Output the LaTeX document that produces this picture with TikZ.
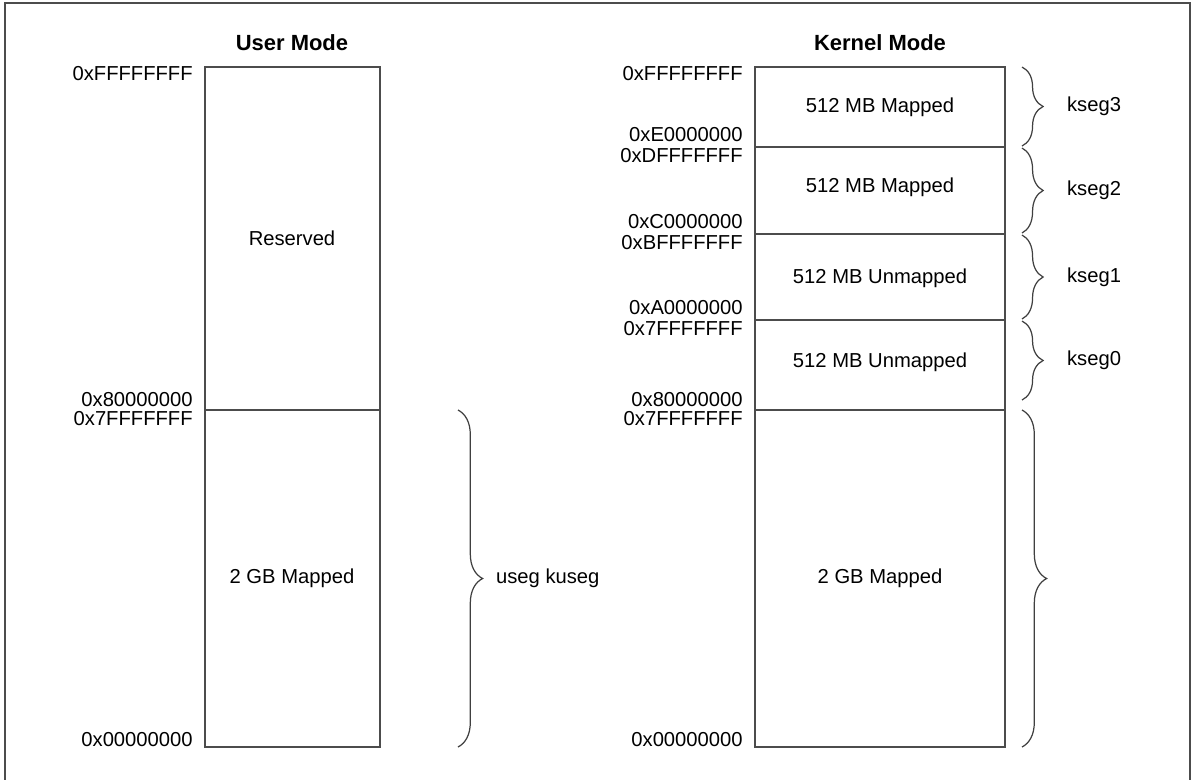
\documentclass[tikz,border=0pt]{standalone}
\usepackage{fontspec}
\setmainfont{Liberation Sans}
\usetikzlibrary{decorations.pathreplacing}
\tikzset{
  addr/.style={anchor=east,inner sep=0pt,font=\fontsize{11.5}{13}\selectfont},
  seg/.style={font=\fontsize{11.5}{13}\selectfont},
  title/.style={font=\fontsize{12.5}{14}\selectfont\bfseries},
  mem/.style={draw=black!70,line width=0.8pt},
  brc/.style={decorate,decoration={brace,amplitude=14pt},draw=black!75,line width=0.7pt}
}
\begin{document}
\begin{tikzpicture}[x=0.02cm,y=-0.02cm]
\useasboundingbox (0,0) rectangle (1193,779);
\draw[black!70,line width=0.8pt] (5,3) rectangle (1190,790);
% user mode
\node[title] (ut) at (292,43) {User Mode};
\coordinate (u1) at (205,67); \coordinate (u2) at (380,410); \coordinate (u3) at (380,747);
\draw[mem] (u1) rectangle (u3);
\draw[mem] (205,410) -- (u2);
\node[seg] (ures) at (292,238) {Reserved};
\node[seg] (umap) at (292,578) {2 GB Mapped};
\node[addr] at (193,74) {0xFFFFFFFF};
\node[addr] at (193,400) {0x80000000};
\node[addr] at (193,419) {0x7FFFFFFF};
\node[addr] at (193,740) {0x00000000};
\draw[brc] (458,410) -- (458,747) node[midway,right=18pt,seg] (useg) {useg kuseg};
% kernel mode
\node[title] (kt) at (880,43) {Kernel Mode};
\draw[mem] (755,67) rectangle (1005,747);
\foreach \y in {147,234,320,410} \draw[mem] (755,\y) -- (1005,\y);
\node[seg] (k3) at (880,107) {512 MB Mapped};
\node[seg] (k2) at (880,187) {512 MB Mapped};
\node[seg] (k1) at (880,278) {512 MB Unmapped};
\node[seg] (k0) at (880,362) {512 MB Unmapped};
\node[seg] (kmap) at (880,578) {2 GB Mapped};
\node[addr] at (743,74) {0xFFFFFFFF};
\node[addr] at (743,135) {0xE0000000};
\node[addr] at (743,156) {0xDFFFFFFF};
\node[addr] at (743,222) {0xC0000000};
\node[addr] at (743,243) {0xBFFFFFFF};
\node[addr] at (743,308) {0xA0000000};
\node[addr] at (743,329) {0x7FFFFFFF};
\node[addr] at (743,400) {0x80000000};
\node[addr] at (743,419) {0x7FFFFFFF};
\node[addr] at (743,740) {0x00000000};
\foreach \a/\b/\t in {67/146/kseg3,148/233/kseg2,235/319/kseg1,321/400/kseg0}
  \draw[brc,decoration={amplitude=12pt}] (1022,\a) -- (1022,\b) node[midway,right=22pt,seg] {\t};
\draw[brc] (1022,410) -- (1022,747);
\end{tikzpicture}
\end{document}
